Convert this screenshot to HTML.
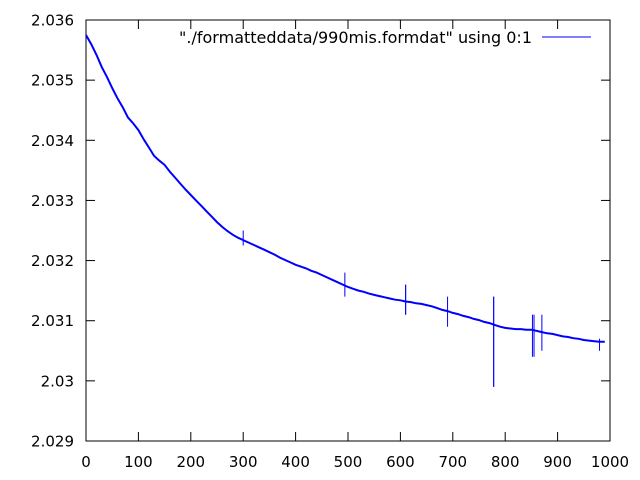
<!DOCTYPE html>
<html><head><meta charset="utf-8"><style>
html,body{margin:0;padding:0;background:#fff;}
svg{display:block;font-family:"DejaVu Sans","Liberation Sans",sans-serif;}
</style></head><body>
<svg id="chart" width="640" height="480">
<g id="grid"></g>
<rect x="86" y="20" width="524" height="421" fill="none" stroke="#000" stroke-width="1"/>
<g id="series"></g>
<text x="532" y="43" font-size="16" text-anchor="end">"./formatteddata/990mis.formdat" using 0:1</text>
<line x1="542" y1="37" x2="591" y2="37" stroke="#0000ff" stroke-width="1"/>
</svg>
<script>
const xTicks=[0,100,200,300,400,500,600,700,800,900,1000];
const yTicks=[2.029,2.030,2.031,2.032,2.033,2.034,2.035,2.036];
const yTickLabels=["2.029","2.03","2.031","2.032","2.033","2.034","2.035","2.036"];
const sampleX=[0,10,20,30,40,50,60,70,80,90,100,110,120,130,140,150,160,170,180,190,200,210,220,230,240,250,260,270,280,290,300,310,320,330,340,350,360,370,380,390,400,410,420,430,440,450,460,470,480,490,500,510,520,530,540,550,560,570,580,590,600,610,620,630,640,650,660,670,680,690,700,710,720,730,740,750,760,770,780,790,800,810,820,830,840,850,860,870,880,890,900,910,920,930,940,950,960,970,980,990];
const sampleY=[2.03575,2.0356,2.03542,2.03522,2.03505,2.03487,2.0347,2.03455,2.03438,2.03428,2.03417,2.03402,2.03388,2.03374,2.03366,2.03359,2.03348,2.03338,2.03328,2.03318,2.03309,2.033,2.03291,2.03282,2.03273,2.03264,2.03256,2.03249,2.03243,2.03238,2.03234,2.0323,2.03226,2.03222,2.03218,2.03214,2.0321,2.03205,2.03201,2.03197,2.03193,2.0319,2.03187,2.03183,2.0318,2.03176,2.03172,2.03168,2.03164,2.0316,2.03156,2.03153,2.0315,2.03148,2.03145,2.03143,2.03141,2.03139,2.03137,2.03135,2.03134,2.03132,2.03131,2.03129,2.03128,2.03126,2.03124,2.03121,2.03118,2.03116,2.03113,2.03111,2.03108,2.03106,2.03103,2.03101,2.03098,2.03096,2.03093,2.0309,2.03088,2.03087,2.03086,2.03086,2.03085,2.03085,2.03083,2.03081,2.03079,2.03078,2.03076,2.03074,2.03073,2.03071,2.0307,2.03068,2.03067,2.03066,2.03065,2.03065];
const spikeX=[300,494,610,610,690,778,778,852,855,870,980];
const spikeLo=[2.03225,2.0314,2.0311,2.0311,2.0309,2.0299,2.0299,2.0304,2.0304,2.0305,2.0305];
const spikeHi=[2.0325,2.0318,2.0316,2.0316,2.0314,2.0314,2.0314,2.0311,2.0311,2.0311,2.0307];
const X0=86,X1=610,Y0=441,Y1=20;
const xs=v=>X0+(v-0)/(1000-0)*(X1-X0);
const ys=v=>Y0-(v-2.029)/(2.036-2.029)*(Y0-Y1);
const NS="http://www.w3.org/2000/svg";
const grid=document.getElementById('grid'),ser=document.getElementById('series');
function mk(tag,attrs,parent){const e=document.createElementNS(NS,tag);for(const k in attrs)e.setAttribute(k,attrs[k]);parent.appendChild(e);return e;}
xTicks.forEach(t=>{
 const x=xs(t);
 const a=mk('line',{x1:x,y1:Y0,x2:x,y2:Y0-9,stroke:'#000'},grid);
 
 
 const b=mk('line',{x1:x,y1:Y1,x2:x,y2:Y1+9,stroke:'#000'},grid);
 
 
 const l=mk('text',{x:x,y:467,'font-size':15,'text-anchor':'middle'},grid);
 l.textContent=t;
 
 
});
yTicks.forEach((t,i)=>{
 const y=ys(t);
 const a=mk('line',{x1:X0,y1:y,x2:X0+9,y2:y,stroke:'#000'},grid);
 
 
 const b=mk('line',{x1:X1,y1:y,x2:X1-9,y2:y,stroke:'#000'},grid);
 
 
 const l=mk('text',{x:74,y:y+5.5,'font-size':15,'text-anchor':'end'},grid);
 l.textContent=yTickLabels[i];
 
 
});
let d='';
sampleX.forEach((v,i)=>{d+=(i?'L':'M')+xs(v).toFixed(1)+' '+ys(sampleY[i]).toFixed(1)+' ';});
const p=mk('path',{d:d,fill:'none',stroke:'#0000ff','stroke-width':2},ser);


spikeX.forEach((v,i)=>{
 const s=mk('line',{x1:xs(v),x2:xs(v),y1:ys(spikeLo[i]),y2:ys(spikeHi[i]),stroke:'#0000ff','stroke-width':1},ser);
 
 
});
</script>
</body></html>
